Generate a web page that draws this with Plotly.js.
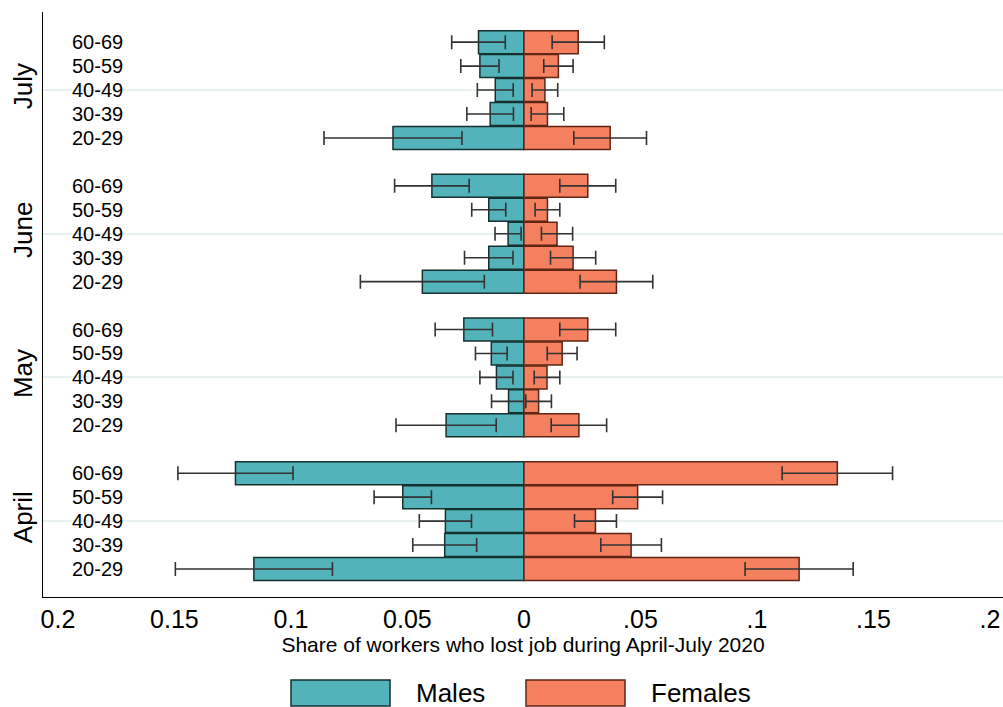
<!DOCTYPE html>
<html>
<head>
<meta charset="utf-8">
<script src="https://cdn.plot.ly/plotly-3.0.1.min.js"></script>
<style>html,body{margin:0;padding:0;background:#fff;}#chart{width:1003px;height:707px;}</style>
</head>
<body>
<div id="chart"></div>
<script>
// ---- data ----
var months = ['April', 'May', 'June', 'July'];
var ages = ['20-29', '30-39', '40-49', '50-59', '60-69'];

// share of workers who lost job, per month (rows) and age group (cols)
var males = [
  [0.1159, 0.0340, 0.0337, 0.0520, 0.1238],
  [0.0334, 0.0066, 0.0118, 0.0140, 0.0258],
  [0.0436, 0.0151, 0.0068, 0.0151, 0.0395],
  [0.0562, 0.0145, 0.0123, 0.0189, 0.0195]
];
var malesErr = [
  [0.0337, 0.0137, 0.0112, 0.0123, 0.0247],
  [0.0215, 0.0073, 0.0071, 0.0068, 0.0123],
  [0.0266, 0.0104, 0.0056, 0.0073, 0.0160],
  [0.0296, 0.0100, 0.0077, 0.0082, 0.0115]
];
var females = [
  [0.1181, 0.0460, 0.0307, 0.0488, 0.1345],
  [0.0236, 0.0063, 0.0099, 0.0164, 0.0274],
  [0.0397, 0.0211, 0.0142, 0.0101, 0.0274],
  [0.0370, 0.0101, 0.0090, 0.0148, 0.0233]
];
var femalesErr = [
  [0.0232, 0.0130, 0.0090, 0.0107, 0.0237],
  [0.0119, 0.0055, 0.0055, 0.0064, 0.0120],
  [0.0156, 0.0097, 0.0067, 0.0053, 0.0120],
  [0.0156, 0.0070, 0.0055, 0.0063, 0.0112]
];
var xTickVals = [-0.2, -0.15, -0.1, -0.05, 0, 0.05, 0.1, 0.15, 0.2];
var xTickText = ['0.2', '0.15', '0.1', '0.05', '0', '.05', '.1', '.15', '.2'];
var seriesNames = ['Males', 'Females'];

// ---- build ----
var slot = ages.length + 1; // one empty slot between months
var yPos = [], mX = [], mE = [], fX = [], fE = [], labY = [], labT = [];
months.forEach(function (m, g) {
  ages.forEach(function (a, i) {
    var y = g * slot + i;
    yPos.push(y);
    mX.push(-males[g][i]);
    mE.push(malesErr[g][i]);
    fX.push(females[g][i]);
    fE.push(femalesErr[g][i]);
    labY.push(y); labT.push(a);
  });
});
var monthTicks = months.map(function (m, g) { return g * slot + (ages.length - 1) / 2; });

var font = '"Liberation Sans", Arial, Helvetica, sans-serif';
var maleColor = '#52B3BA', femaleColor = '#F4805F';
var maleLine = '#15302f', femaleLine = '#5e2414';
var errStyle = {type: 'data', visible: true, color: '#333333', thickness: 1.6, width: 7};

var traces = [
  {type: 'bar', orientation: 'h', name: seriesNames[0], y: yPos, x: mX, width: 0.96,
   marker: {color: maleColor, line: {color: maleLine, width: 1.5}},
   error_x: Object.assign({array: mE}, errStyle), showlegend: false, hoverinfo: 'x+y'},
  {type: 'bar', orientation: 'h', name: seriesNames[1], y: yPos, x: fX, width: 0.96,
   marker: {color: femaleColor, line: {color: femaleLine, width: 1.5}},
   error_x: Object.assign({array: fE}, errStyle), showlegend: false, hoverinfo: 'x+y'}
];

var annotations = labY.map(function (y, k) {
  return {xref: 'paper', yref: 'y', x: 0.028, y: y, text: labT[k], showarrow: false,
          xanchor: 'left', yanchor: 'middle', font: {family: font, size: 20, color: '#000'}};
});

// custom legend (paper coords)
var H = 585, B = 597;
function py(p) { return (B - p) / H; }
function px(p) { return (p - 43) / 960; }
var shapes = [
  {type: 'rect', xref: 'paper', yref: 'paper', x0: px(291), x1: px(390), y0: py(706), y1: py(680),
   fillcolor: maleColor, line: {color: maleLine, width: 1.5}},
  {type: 'rect', xref: 'paper', yref: 'paper', x0: px(526), x1: px(625), y0: py(706), y1: py(680),
   fillcolor: femaleColor, line: {color: femaleLine, width: 1.5}}
];
annotations.push({xref: 'paper', yref: 'paper', x: px(414), y: py(693), text: seriesNames[0], showarrow: false,
  xanchor: 'left', yanchor: 'middle', font: {family: font, size: 26, color: '#000'}});
annotations.push({xref: 'paper', yref: 'paper', x: px(649), y: py(693), text: seriesNames[1], showarrow: false,
  xanchor: 'left', yanchor: 'middle', font: {family: font, size: 26, color: '#000'}});

var layout = {
  width: 1003, height: 707,
  margin: {l: 43, r: 0, t: 12, b: 110, pad: 0},
  paper_bgcolor: '#fff', plot_bgcolor: '#fff',
  barmode: 'overlay',
  showlegend: false,
  font: {family: font, color: '#000'},
  xaxis: {
    range: [-0.2064, 0.2056], tickvals: xTickVals, ticktext: xTickText,
    showgrid: false, zeroline: false, showline: true, linecolor: '#000', linewidth: 1,
    ticks: '', tickfont: {family: font, size: 25, color: '#000'},
    title: {text: 'Share of workers who lost job during April-July 2020', font: {family: font, size: 21, color: '#000'}, standoff: 2},
    fixedrange: true
  },
  yaxis: {
    range: [-1.17, 23.26], tickvals: monthTicks, ticktext: months, tickangle: -90,
    showgrid: true, gridcolor: '#e9f0f2', gridwidth: 2, zeroline: false,
    showline: true, linecolor: '#000', linewidth: 1, ticks: '',
    tickfont: {family: font, size: 26, color: '#000'}, fixedrange: true
  },
  annotations: annotations,
  shapes: shapes
};

Plotly.newPlot('chart', traces, layout, {displayModeBar: false, staticPlot: true});
</script>
</body>
</html>
